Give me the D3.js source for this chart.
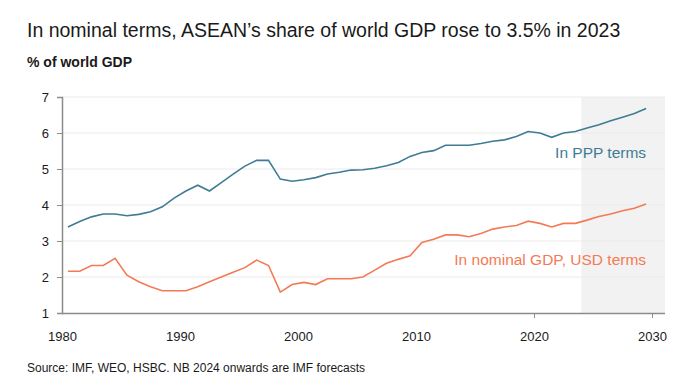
<!DOCTYPE html>
<html>
<head>
<meta charset="utf-8">
<script src="https://cdn.jsdelivr.net/npm/d3@7"></script>
<style>
  body { margin: 0; background: #fff; }
  text { font-family: "Liberation Sans Narrow", "Liberation Sans", Arial, sans-serif; }
</style>
</head>
<body>
<div class="chart"></div>
<script>
var width = 696;
var height = 390;

var years = d3.range(1980, 2030);
var pppShare = [3.39, 3.54, 3.67, 3.75, 3.75, 3.70, 3.74, 3.81, 3.95, 4.19,
    4.39, 4.55, 4.39, 4.62, 4.86, 5.08, 5.24, 5.24, 4.72, 4.66,
    4.70, 4.76, 4.86, 4.91, 4.97, 4.98, 5.02, 5.09, 5.18, 5.35,
    5.46, 5.51, 5.66, 5.66, 5.66, 5.71, 5.77, 5.81, 5.90, 6.04,
    6.00, 5.88, 6.00, 6.04, 6.14, 6.23, 6.34, 6.44, 6.54, 6.68];
var nominalShare = [2.16, 2.16, 2.32, 2.32, 2.52, 2.05, 1.87, 1.73, 1.62, 1.62,
    1.62, 1.73, 1.87, 2.00, 2.13, 2.26, 2.47, 2.32, 1.58, 1.79,
    1.85, 1.79, 1.95, 1.95, 1.95, 2.00, 2.19, 2.38, 2.49, 2.59,
    2.96, 3.05, 3.17, 3.17, 3.12, 3.21, 3.33, 3.39, 3.43, 3.55,
    3.49, 3.39, 3.49, 3.49, 3.58, 3.68, 3.75, 3.84, 3.91, 4.03];
var xTicks = [1980, 1990, 2000, 2010, 2020, 2030];
var yTicks = [1, 2, 3, 4, 5, 6, 7];
var forecastStart = 2024;

var plotLeft = 62, plotRight = 665, plotTop = 97, plotBottom = 313;

// x domain in years; points sit mid-year
var x = d3.scaleLinear().domain([1980, 2031.1]).range([plotLeft, plotRight]);
var y = d3.scaleLinear().domain([1, 7]).range([plotBottom, plotTop]);

var svg = d3.select(".chart")
    .append("svg")
    .attr("width", width)
    .attr("height", height);

svg.append("text")
    .attr("x", 27)
    .attr("y", 37)
    .style("font-size", "19.5px")
    .attr("fill", "#1a1a1a")
    .text("In nominal terms, ASEAN\u2019s share of world GDP rose to 3.5% in 2023");

svg.append("text")
    .attr("x", 27)
    .attr("y", 67)
    .style("font-size", "14px")
    .style("font-weight", "bold")
    .attr("fill", "#1a1a1a")
    .text("% of world GDP");

// forecast shading
svg.append("rect")
    .attr("x", x(forecastStart))
    .attr("y", plotTop)
    .attr("width", plotRight - x(forecastStart))
    .attr("height", plotBottom - plotTop)
    .attr("fill", "#f2f2f2");

// gridlines
svg.selectAll(".grid")
    .data(yTicks.slice(1))
    .enter().append("line")
    .attr("class", "grid")
    .attr("x1", plotLeft)
    .attr("x2", plotRight)
    .attr("y1", function(d) { return y(d); })
    .attr("y2", function(d) { return y(d); })
    .attr("stroke", "#ebebeb")
    .attr("stroke-width", 1);

var yAxis = svg.append("g")
    .attr("transform", "translate(" + plotLeft + ",0)")
    .call(d3.axisLeft(y).tickValues(yTicks).tickSize(5).tickPadding(8).tickFormat(d3.format("d")));

var xAxis = svg.append("g")
    .attr("transform", "translate(0," + plotBottom + ")")
    .call(d3.axisBottom(x).tickValues(xTicks).tickSize(5).tickPadding(14).tickFormat(d3.format("d")));

xAxis.select(".domain").attr("d", "M" + plotLeft + ",0.5H" + plotRight);

[yAxis, xAxis].forEach(function(a) {
    a.select(".domain").attr("stroke", "#8c8c8c").attr("stroke-width", 1.5);
    a.selectAll(".tick line").attr("stroke", "#8c8c8c");
    a.selectAll(".tick text")
        .style("font-size", "13px")
        .style("font-family", "'Liberation Sans Narrow', 'Liberation Sans', Arial, sans-serif")
        .attr("fill", "#1a1a1a");
});
xAxis.selectAll(".tick").filter(function(d) { return d < 2020; }).select("line").remove();

var line = d3.line()
    .x(function(d, i) { return x(years[i] + 0.5); })
    .y(function(d) { return y(d); });

svg.append("path")
    .attr("d", line(pppShare))
    .attr("fill", "none")
    .attr("stroke", "#3f7c94")
    .attr("stroke-width", 1.6);

svg.append("path")
    .attr("d", line(nominalShare))
    .attr("fill", "none")
    .attr("stroke", "#f47a55")
    .attr("stroke-width", 1.6);

svg.append("text")
    .attr("x", x(2029.5))
    .attr("y", 158)
    .attr("text-anchor", "end")
    .style("font-size", "15.5px")
    .attr("fill", "#3f7c94")
    .text("In PPP terms");

svg.append("text")
    .attr("x", x(2029.5))
    .attr("y", 265)
    .attr("text-anchor", "end")
    .style("font-size", "15.5px")
    .attr("fill", "#f47a55")
    .text("In nominal GDP, USD terms");

svg.append("text")
    .attr("x", 27)
    .attr("y", 372)
    .style("font-size", "12px")
    .attr("fill", "#1a1a1a")
    .text("Source: IMF, WEO, HSBC. NB 2024 onwards are IMF forecasts");
</script>
</body>
</html>
